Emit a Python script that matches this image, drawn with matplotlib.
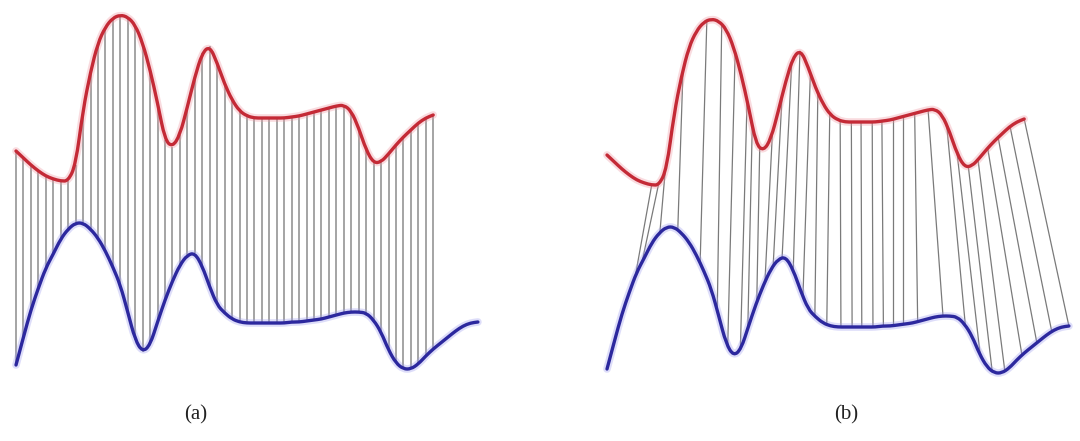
import numpy as np
import matplotlib
matplotlib.use("Agg")
import matplotlib.pyplot as plt
from matplotlib.collections import LineCollection
from matplotlib.path import Path
from matplotlib.patches import PathPatch

# ---- data (heights in pixel units; one sample every 7.45 px) ----
red_y_px = [151, 158, 165, 171, 176, 179, 181, 181, 165, 110,
            72, 43, 27, 18, 15, 17, 25, 43, 70, 103,
            140, 147, 135, 107, 77, 53, 46, 63, 84, 100,
            111, 116, 118, 118, 118, 118, 118, 117, 116, 114,
            112, 110, 108, 106, 105, 111, 128, 150, 163, 162,
            154, 145, 137, 130, 123, 118, 115]
blue_y_px = [365, 337, 310, 288, 268, 254, 239, 229, 223, 223,
             229, 238, 251, 267, 285, 312, 340, 352, 345, 322,
             300, 281, 265, 255, 253, 266, 287, 305, 313, 319,
             322, 323, 323, 323, 323, 323, 323, 322, 322, 321,
             320, 319, 317, 315, 313, 312, 312, 313, 320, 332,
             350, 363, 369, 369, 364, 356, 349, 343, 337, 331,
             326, 323, 322]

# DTW matching pairs (positions along each series, in sample units)
dtw_red_pos = [6.0, 6.9, 7.8, 10.2, 13.4, 15.4, 17.2, 18.8, 19.5, 20.5,
               22.2, 23.5, 24.8, 25.9, 27.3, 28.3, 29.9, 31.3, 32.8, 34.1,
               35.6, 36.9, 38.4, 39.7, 41.3, 43.1, 45.6, 47.0, 48.5, 49.8,
               51.1, 52.5, 54.1, 56.0]
dtw_blue_pos = [3.8, 4.7, 7.1, 9.5, 12.5, 14.8, 16.2, 17.9, 18.9, 20.1,
                21.2, 22.3, 23.5, 25.0, 26.3, 27.9, 29.5, 31.4, 32.9, 34.2,
                35.7, 37.1, 38.4, 39.7, 41.7, 45.1, 48.1, 50.1, 51.7, 53.4,
                55.7, 57.7, 59.7, 62.0]

panel_labels = ["(a)", "(b)"]

H = 441
red = H - np.array(red_y_px, dtype=float)
blue = H - np.array(blue_y_px, dtype=float)
t_red = np.arange(len(red))
t_blue = np.arange(len(blue))

RED = "#c42a36"
BLUE = "#2c289e"

fig = plt.figure(figsize=(10.8, 4.41), dpi=100)
fig.patch.set_facecolor("white")

step = 7.45
def make_ax(x0_px, dy_px):
    ax = fig.add_axes([0, 0, 1, 1])
    ax.set_xlim(-x0_px / step, (1080 - x0_px) / step)
    ax.set_ylim(dy_px, H + dy_px)
    ax.axis("off")
    ax.patch.set_alpha(0)
    return ax

def smooth_path(t, v):
    pts = np.column_stack([t, v])
    verts = [pts[0]]
    codes = [Path.MOVETO]
    for i in range(1, len(pts) - 1):
        mid = (pts[i] + pts[i + 1]) / 2
        verts += [pts[i], mid]
        codes += [Path.CURVE3, Path.CURVE3]
    verts.append(pts[-1])
    codes.append(Path.LINETO)
    return Path(verts, codes)

def draw_curve(ax, t, v, color, halo):
    p = smooth_path(t, v)
    ax.add_patch(PathPatch(p, fill=False, edgecolor=halo, lw=5.5, alpha=0.35,
                           capstyle="round", joinstyle="round", zorder=3))
    ax.add_patch(PathPatch(p, fill=False, edgecolor=color, lw=2.4,
                           capstyle="round", joinstyle="round", zorder=4))

def draw_curves(ax):
    draw_curve(ax, t_red, red, RED, "#f09aa4")
    draw_curve(ax, t_blue, blue, BLUE, "#a09ff0")

# panel (a): Euclidean one-to-one matching
ax_a = make_ax(16, 0)
ax_a.vlines(t_red, blue[:len(red)], red, color="#a4a4a4", lw=1.4, zorder=2)
draw_curves(ax_a)

# panel (b): DTW matching
ax_b = make_ax(607, 4)
rp = np.array(dtw_red_pos)
bp = np.array(dtw_blue_pos)
segs = [[(r, np.interp(r, t_red, red)), (b, np.interp(b, t_blue, blue))] for r, b in zip(rp, bp)]
ax_b.add_collection(LineCollection(segs, colors="#7a7a7a", linewidths=0.9, zorder=2))
draw_curves(ax_b)

fig.text(196 / 1080, 1 - 415 / H, panel_labels[0], ha="center", va="center",
         fontsize=15, family="Liberation Serif", color="#222222")
fig.text(846 / 1080, 1 - 415 / H, panel_labels[1], ha="center", va="center",
         fontsize=15, family="Liberation Serif", color="#222222")

fig.savefig("out.png", dpi=100, facecolor="white")
